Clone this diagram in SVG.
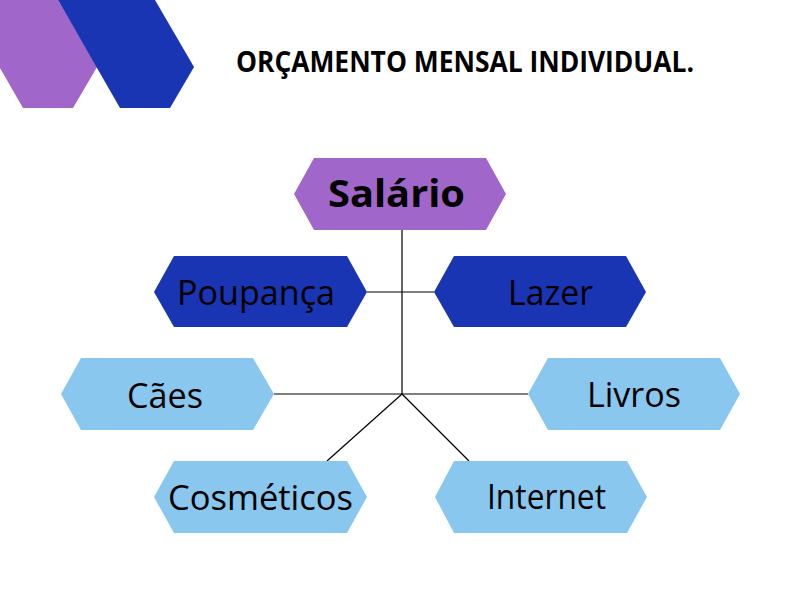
<svg xmlns="http://www.w3.org/2000/svg" width="800" height="600" viewBox="0 0 800 600">
<style>
.t{font-family:"Open Sans","Noto Sans","Liberation Sans",sans-serif;fill:#000;}
.n{font-size:35px;}
.b{font-weight:bold;}
.pur{fill:#a066c9;}
.dark{fill:#1935b3;}
.light{fill:#89c7ee;}
.c{stroke:#000;stroke-width:1.2;fill:none;}
</style>
<rect width="800" height="600" fill="#fff"/>
<g id="decor">
<polygon class="pur" points="-30,0 58,0 97,67 73,108 23,108 0,68"/>
<polygon class="dark" points="58,0 155,0 194,67 170,108 120,108"/>
</g>
<text class="t b" x="236" y="72" font-size="28.5" textLength="458" lengthAdjust="spacingAndGlyphs">ORÇAMENTO MENSAL INDIVIDUAL.</text>
<g id="connectors">
<line class="c" x1="402" y1="230" x2="402" y2="394"/>
<line class="c" x1="367" y1="292" x2="434" y2="292"/>
<line class="c" x1="274" y1="394" x2="528" y2="394"/>
<line class="c" x1="402" y1="394" x2="327" y2="461"/>
<line class="c" x1="402" y1="394" x2="469" y2="461"/>
</g>
<g id="salario">
<polygon class="pur" points="314,158 486,158 506,194 486,230 314,230 294,194"/>
<text class="t b" x="328" y="207" font-size="37" textLength="137" lengthAdjust="spacingAndGlyphs">Salário</text>
</g>
<g id="poupanca">
<polygon class="dark" points="174,256 347,256 367,292 347,327 174,327 154,292"/>
<text class="t n" x="177" y="305" textLength="158" lengthAdjust="spacingAndGlyphs">Poupança</text>
</g>
<g id="lazer">
<polygon class="dark" points="454,256 626,256 646,292 626,327 454,327 434,292"/>
<text class="t n" x="508" y="305" textLength="85" lengthAdjust="spacingAndGlyphs">Lazer</text>
</g>
<g id="caes">
<polygon class="light" points="81,358 253,358 274,394 253,430 81,430 61,394"/>
<text class="t n" x="127" y="408" textLength="76" lengthAdjust="spacingAndGlyphs">Cães</text>
</g>
<g id="livros">
<polygon class="light" points="548,358 720,358 740,394 720,430 548,430 528,394"/>
<text class="t n" x="587" y="407" textLength="94" lengthAdjust="spacingAndGlyphs">Livros</text>
</g>
<g id="cosmeticos">
<polygon class="light" points="174,461 347,461 367,497 347,533 174,533 154,497"/>
<text class="t n" x="168" y="510" textLength="185" lengthAdjust="spacingAndGlyphs">Cosméticos</text>
</g>
<g id="internet">
<polygon class="light" points="454,461 627,461 647,497 627,533 454,533 435,497"/>
<text class="t n" x="487" y="509" textLength="119" lengthAdjust="spacingAndGlyphs">Internet</text>
</g>
</svg>
